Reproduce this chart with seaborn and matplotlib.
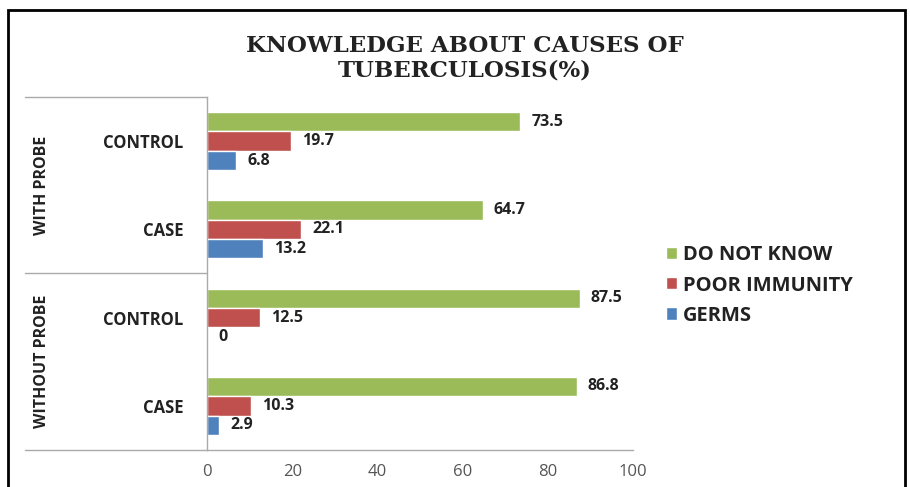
import pandas as pd
import numpy as np
import matplotlib
matplotlib.use('Agg')
import matplotlib.pyplot as plt
import seaborn as sns
from matplotlib.patches import Rectangle
from matplotlib.lines import Line2D

# --- Data ---
groups = ['CONTROL', 'CASE', 'CONTROL', 'CASE']
group_keys = ['WITH PROBE CONTROL', 'WITH PROBE CASE', 'WITHOUT PROBE CONTROL', 'WITHOUT PROBE CASE']
probe_labels = ['WITH PROBE', 'WITHOUT PROBE']
causes = ['DO NOT KNOW', 'POOR IMMUNITY', 'GERMS']
do_not_know = [73.5, 64.7, 87.5, 86.8]
poor_immunity = [19.7, 22.1, 12.5, 10.3]
germs = [6.8, 13.2, 0, 2.9]

colors = ['#9BBB59', '#C0504D', '#4F81BD']

rows = []
for key, a, b, c in zip(group_keys, do_not_know, poor_immunity, germs):
    rows.append({'group': key, 'cause': causes[0], 'value': a})
    rows.append({'group': key, 'cause': causes[1], 'value': b})
    rows.append({'group': key, 'cause': causes[2], 'value': c})
df = pd.DataFrame(rows)

sns.set_theme(style='white')
plt.rcParams['font.family'] = ['Open Sans', 'DejaVu Sans']

fig = plt.figure(figsize=(9.1, 4.87), dpi=100)
ax = fig.add_axes([0.2275, 0.076, 0.4681, 0.7248])

sns.barplot(data=df, y='group', x='value', hue='cause', order=group_keys,
            hue_order=causes, palette=colors, orient='h', width=0.66,
            saturation=1, ax=ax, errorbar=None)

ax.set_xlim(0, 100)
ax.set_ylim(3.5, -0.5)
ax.set_xticks(range(0, 101, 20))
ax.set_xticklabels([str(v) for v in range(0, 101, 20)], color='#555555', fontsize=12)
ax.tick_params(axis='x', length=0, pad=10)
ax.tick_params(axis='y', length=0)
ax.set_yticks(range(4))
ax.set_yticklabels(groups, fontsize=12, fontweight='bold', color='#222222')
ax.tick_params(axis='y', pad=17)
ax.set_xlabel('')
ax.set_ylabel('')

for side in ['top', 'right']:
    ax.spines[side].set_visible(False)
for side in ['left', 'bottom']:
    ax.spines[side].set_color('#aaaaaa')
    ax.spines[side].set_linewidth(1)

# value labels
for cont in ax.containers:
    for bar in cont:
        w = bar.get_width()
        ax.annotate(f'{w:g}', (w, bar.get_y() + bar.get_height() / 2),
                    xytext=(8, 0), textcoords='offset points',
                    ha='left', va='center', fontsize=11.5, fontweight='bold',
                    color='#222222')

# group separators and rotated group labels
trans = ax.get_yaxis_transform()
x_left = (25 - 207) / 426.0
for y in [-0.5, 1.5, 3.5]:
    ax.add_line(Line2D([x_left, 0], [y, y], transform=trans, color='#aaaaaa',
                       lw=1, clip_on=False))
for lbl, yc in zip(probe_labels, [0.5, 2.5]):
    ax.text((42 - 207) / 426.0, yc, lbl, transform=trans, rotation=90,
            ha='center', va='center', fontsize=11.5, fontweight='bold',
            color='#222222')

# legend
leg = ax.legend(loc='center left', bbox_to_anchor=(1.035, 0.466), frameon=False,
                fontsize=14.5, handlelength=0.55, handleheight=0.55,
                handletextpad=0.3, labelspacing=0.5)
for t in leg.get_texts():
    t.set_fontweight('bold')
    t.set_color('#222222')

# title
fig.text(0.511, 0.88, 'KNOWLEDGE ABOUT CAUSES OF\nTUBERCULOSIS(%)', ha='center',
         va='center', fontsize=16.5, fontweight='bold', color='#222222',
         family=['DejaVu Serif'], linespacing=1.15)

# outer frame
fig.add_artist(Rectangle((0.009, -0.05), 0.985, 1.03, transform=fig.transFigure,
                         fill=False, edgecolor='black', lw=2))

plt.savefig('out.png', dpi=100)
